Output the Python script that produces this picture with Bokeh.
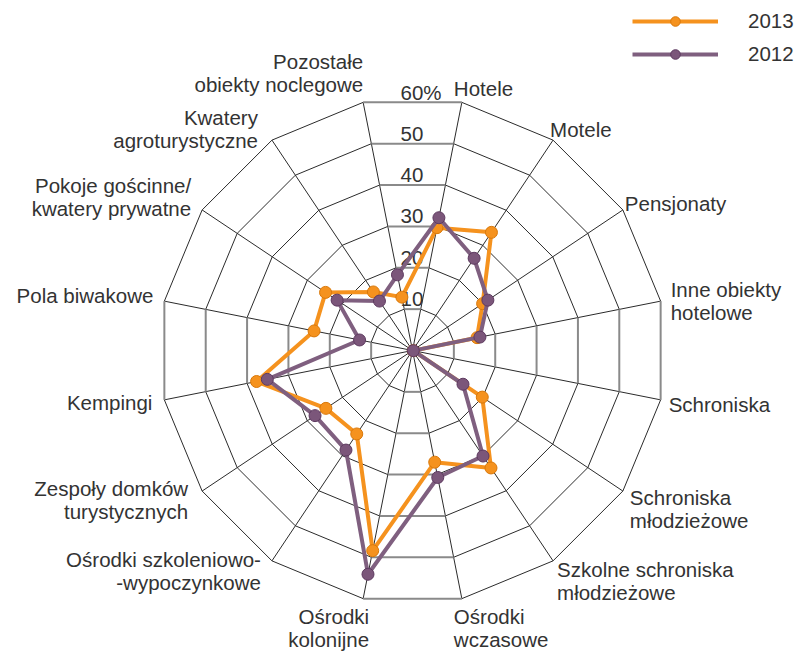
import numpy as np
from bokeh.plotting import figure
from bokeh.models import Range1d, Legend, LegendItem, ColumnDataSource
from bokeh.embed import file_html
from bokeh.resources import INLINE
from bokeh.core.properties import value

# ---------------- data ----------------
categories = [
    "Hotele", "Motele", "Pensjonaty", "Inne obiekty\nhotelowe", "Schroniska",
    "Schroniska\nmłodzieżowe", "Szkolne schroniska\nmłodzieżowe", "Ośrodki\nwczasowe",
    "Ośrodki\nkolonijne", "Ośrodki szkoleniowo-\n-wypoczynkowe", "Zespoły domków\nturystycznych",
    "Kempingi", "Pola biwakowe", "Pokoje gościnne/\nkwatery prywatne",
    "Kwatery\nagroturystyczne", "Pozostałe\nobiekty noclegowe",
]
values_2013 = [29.7, 33.7, 20.0, 15.6, 0.2, 19.9, 33.5, 27.0, 48.4, 23.8, 24.7, 37.7, 23.8, 24.8, 16.7, 12.9]
values_2012 = [32.1, 26.3, 21.5, 16.3, 0.2, 14.4, 30.1, 30.7, 54.1, 28.4, 27.8, 35.1, 12.8, 21.5, 14.1, 18.3]
series_names = ["2013", "2012"]
tick_values = [10, 20, 30, 40, 50, 60]
tick_labels = ["10", "20", "30", "40", "50", "60%"]

# ---------------- style ----------------
FONT = "Liberation Sans"
FS = "20.5px"
TEXT = "#333333"
ORANGE = "#F5921E"
ORANGE_EDGE = "#D9780A"
PURPLE = "#7F5F7F"
PURPLE_FILL = "#7B567A"
PURPLE_EDGE = "#5E3A60"
R_MAX = 253.0          # px radius of the 60% ring
V_MAX = 60.0
N = len(categories)
theta = np.pi / N + np.arange(N) * 2 * np.pi / N   # clockwise from top
SHIFT = 8              # baseline correction (px, upward)

W, H = 801, 653
CX, CY = 412, 350      # centre in canvas px (from top-left)

p = figure(width=W, height=H, output_backend="svg", toolbar_location=None,
           x_range=Range1d(-CX, W - CX), y_range=Range1d(CY - H, CY),
           min_border=0, outline_line_color=None)
p.axis.visible = False
p.grid.visible = False
p.background_fill_color = "white"


def to_xy(vals):
    r = np.asarray(vals, dtype=float) / V_MAX * R_MAX
    return r * np.sin(theta), r * np.cos(theta)


# spokes
xs_s, ys_s = [], []
for t in theta:
    xs_s.append([0, R_MAX * np.sin(t)])
    ys_s.append([0, R_MAX * np.cos(t)])
p.multi_line(xs_s, ys_s, line_color="#2b2b2b", line_width=1)

# rings
cardinal = {(N // 4 * j - 1) % N for j in range(4)}   # edges crossing 0,90,180,270 deg
xs_r, ys_r, xs_c, ys_c = [], [], [], []
for tv in tick_values:
    gx, gy = to_xy([tv] * N)
    for k in range(N):
        k2 = (k + 1) % N
        seg_x, seg_y = [gx[k], gx[k2]], [gy[k], gy[k2]]
        if k in cardinal:
            xs_c.append(seg_x); ys_c.append(seg_y)
        else:
            xs_r.append(seg_x); ys_r.append(seg_y)
p.multi_line(xs_r, ys_r, line_color="#2b2b2b", line_width=1)
p.multi_line(xs_c, ys_c, line_color="#8a8a8a", line_width=2)

# tick labels
ty = [tv / V_MAX * R_MAX * np.cos(np.pi / N) + 2 + SHIFT for tv in tick_values]
p.text(x=[-12] * len(tick_values), y=ty, text=tick_labels, text_font=value(FONT),
       text_font_size=FS, text_color=TEXT, text_align="left", text_baseline="alphabetic")

# category labels: offsets (px) from outer vertex to first baseline + alignment
label_style = [
    (-8, 6, "left"), (-3, 3, "left"), (2, -2, "left"), (10, 4, "left"),
    (8, -13, "left"), (7, -14, "left"), (4, -17, "left"), (-8, -26, "left"),
    (6, -26, "right"), (-11, -7, "right"), (-14, -5, "right"), (-12, -11, "right"),
    (-11, -2, "right"), (-11, 16, "right"), (-14, 15, "right"), (0, 33, "right"),
]
LINE_H = 23
vx, vy = to_xy([V_MAX] * N)
lx, ly, lt, la = [], [], [], []
for k, cat in enumerate(categories):
    dx, dy, al = label_style[k]
    for j, line in enumerate(cat.split("\n")):
        lx.append(vx[k] + dx)
        ly.append(vy[k] + dy - j * LINE_H + SHIFT)
        lt.append(line)
        la.append(al)
src = ColumnDataSource(dict(x=lx, y=ly, text=lt, align=la))
p.text(x="x", y="y", text="text", text_align="align", source=src, text_font=value(FONT),
       text_font_size=FS, text_color=TEXT, text_baseline="alphabetic")

# series
x13, y13 = to_xy(values_2013)
x12, y12 = to_xy(values_2012)
l13 = p.line(np.append(x13, x13[0]), np.append(y13, y13[0]), line_color=ORANGE, line_width=4)
s13 = p.scatter(x13, y13, size=12, fill_color=ORANGE, line_color=ORANGE_EDGE, line_width=1)
l12 = p.line(np.append(x12, x12[0]), np.append(y12, y12[0]), line_color=PURPLE, line_width=4)
s12 = p.scatter(x12, y12, size=12, fill_color=PURPLE_FILL, line_color=PURPLE_EDGE, line_width=1)

legend = Legend(
    items=[LegendItem(label=series_names[0], renderers=[l13, s13]),
           LegendItem(label=series_names[1], renderers=[l12, s12])],
    location=(632, 587), glyph_width=86, glyph_height=24, label_standoff=30,
    spacing=9, padding=0, margin=0, border_line_alpha=0, background_fill_alpha=0,
    label_text_font=FONT, label_text_font_size=FS, label_text_color=TEXT,
)
p.add_layout(legend)

open("out.html", "w").write(file_html(p, INLINE))
